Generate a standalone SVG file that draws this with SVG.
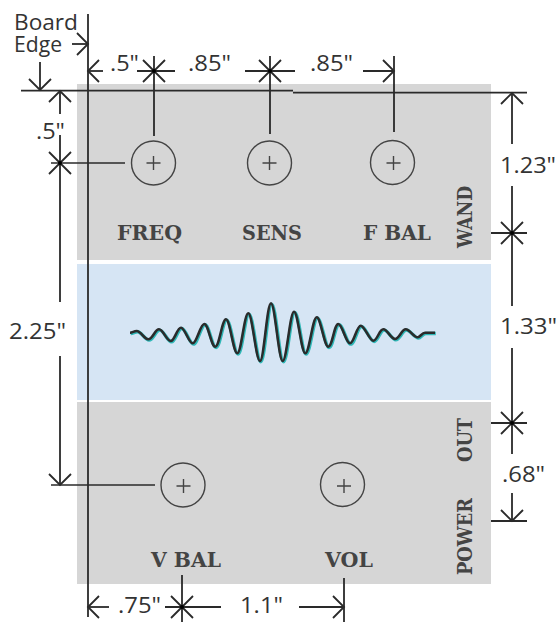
<svg xmlns="http://www.w3.org/2000/svg" width="559" height="622" viewBox="0 0 559 622">
<style>
.ln{stroke:#2a2a2a;stroke-width:1.8;fill:none}
.th{stroke:#2a2a2a;stroke-width:1.5;fill:none}
.hole{stroke:#444;stroke-width:1.4;fill:none}
.dim{font-family:"Open Sans","Liberation Sans",sans-serif;font-size:21px;fill:#333}
.lab{font-family:"DejaVu Serif","Liberation Serif",serif;font-weight:bold;font-size:20px;fill:#444}
</style>
<defs>
<g id="star" class="ln"><path d="M-11,-11L11,11M-11,11L11,-11"/><circle r="2" fill="#000" stroke="none"/></g>
<path id="ah" class="ln" d="M-11,-11L0,0L-11,11"/>
<path id="plus" class="hole" d="M-7,0H7M0,-7V7"/>
<path id="wv" fill="none" stroke-linejoin="round" d="M130,332.7C132.5,332.7 134,331 136.7,331C141,331 144,339.3 148.3,339.3C152.5,339.3 155,329.3 159,329.3C163,329.3 166.7,341 170.7,341C174.7,341 177,327.7 181,327.7C185,327.7 188.7,343.3 192.7,343.3C196.7,343.3 200.3,324 204.3,324C208.3,324 211.3,346.7 215.3,346.7C219.3,346.7 222,319.3 226,319.3C230,319.3 233.3,353.3 237.3,353.3C241.3,353.3 244.3,313.3 248.3,313.3C252.3,313.3 256,361 260,361C264,361 267,303.3 271,303.3C275,303.3 278.7,361 282.7,361C286.7,361 290,311.7 294,311.7C298,311.7 301.3,353.3 305.3,353.3C309.3,353.3 312.7,317.3 316.7,317.3C320.7,317.3 324.3,346.7 328.3,346.7C332.3,346.7 334.3,324 338.3,324C342.3,324 346,343.3 350,343.3C354,343.3 356.7,325.7 360.7,325.7C364.7,325.7 369.3,340.7 373.3,340.7C377.3,340.7 379.3,329.3 383.3,329.3C387.3,329.3 391,339 395,339C399,339 401.7,329.3 405.7,329.3C409.7,329.3 413.7,337.3 417.7,337.3C420,337.3 422,332.7 425,332.7L435,332.7"/>
</defs>
<g id="board">
<rect x="77" y="84" width="414" height="176" fill="#d6d6d6"/>
<rect x="77" y="264" width="414" height="136" fill="#d6e5f4"/>
<rect x="77" y="402" width="414" height="182" fill="#d6d6d6"/>
</g>
<g id="wave">
<use href="#wv" x="0.8" y="0.8" stroke="#2fb8b8" stroke-width="3.4"/>
<use href="#wv" stroke="#2b2b2b" stroke-width="2.6"/>
</g>
<g id="connectors">
<path class="ln" d="M88,14V617"/>
<path class="ln" d="M21,90.700H293M293,92.700H527"/>
<path class="ln" d="M72,44H88"/><use href="#ah" x="88" y="44"/>
<path class="ln" d="M88,71H103"/><use href="#ah" transform="translate(88,71) rotate(180)"/>
<path class="ln" d="M137,71H175M154,56V136"/><use href="#star" x="154" y="71"/>
<path class="ln" d="M245,71H295M270,56V134"/><use href="#star" x="270" y="71"/>
<path class="ln" d="M363,71H394M394,56V132"/><use href="#ah" x="394" y="71"/>
<path class="ln" d="M40,62V90"/><use href="#ah" transform="translate(40,90) rotate(90)"/>
<path class="ln" d="M60,91V114M60,135V302M60,356V485"/><use href="#ah" transform="translate(60,91) rotate(-90)"/>
<path class="th" d="M51,163H125"/><use href="#star" x="60" y="163"/>
<path class="th" d="M51,485H155"/><use href="#ah" transform="translate(60,485) rotate(90)"/>
<path class="ln" d="M512,93V144M512,186V306M512,348V454M512,493V521"/>
<use href="#ah" transform="translate(512,93) rotate(-90)"/>
<path class="ln" d="M491,233H527"/><use href="#star" x="512" y="233"/>
<path class="ln" d="M491,423H527"/><use href="#star" x="512" y="423"/>
<path class="ln" d="M491,521H527"/><use href="#ah" transform="translate(512,521) rotate(90)"/>
<path class="ln" d="M88,607H109"/><use href="#ah" transform="translate(88,607) rotate(180)"/>
<path class="ln" d="M165,607H221M182,575V622"/><use href="#star" x="182" y="607"/>
<path class="ln" d="M299,607H344M344,578V622"/><use href="#ah" x="344" y="607"/>
</g>
<g id="hole-freq"><circle class="hole" cx="153.500" cy="163" r="22"/><use href="#plus" x="153.500" y="163"/><text class="lab" x="117" y="240" textLength="65" lengthAdjust="spacingAndGlyphs">FREQ</text></g>
<g id="hole-sens"><circle class="hole" cx="269.500" cy="163" r="22"/><use href="#plus" x="269.500" y="163"/><text class="lab" x="242" y="240" textLength="60" lengthAdjust="spacingAndGlyphs">SENS</text></g>
<g id="hole-fbal"><circle class="hole" cx="392.500" cy="162.500" r="22"/><use href="#plus" x="393.500" y="163"/><text class="lab" x="363" y="240" textLength="68" lengthAdjust="spacingAndGlyphs">F BAL</text></g>
<g id="hole-vbal"><circle class="hole" cx="183" cy="485" r="22"/><use href="#plus" x="183.500" y="486"/><text class="lab" x="151" y="567" textLength="70" lengthAdjust="spacingAndGlyphs">V BAL</text></g>
<g id="hole-vol"><circle class="hole" cx="342.500" cy="484.500" r="22"/><use href="#plus" x="344" y="486"/><text class="lab" x="325" y="567" textLength="48" lengthAdjust="spacingAndGlyphs">VOL</text></g>
<g id="side-labels">
<text class="lab" transform="translate(472,248) rotate(-90)" textLength="62" lengthAdjust="spacingAndGlyphs">WAND</text>
<text class="lab" transform="translate(472,462) rotate(-90)" textLength="44" lengthAdjust="spacingAndGlyphs">OUT</text>
<text class="lab" transform="translate(472,575) rotate(-90)" textLength="77" lengthAdjust="spacingAndGlyphs">POWER</text>
</g>
<g id="dimensions">
<text class="dim"><tspan x="14" y="30" textLength="64" lengthAdjust="spacingAndGlyphs">Board</tspan><tspan x="14" y="52" textLength="48" lengthAdjust="spacingAndGlyphs">Edge</tspan></text>
<text class="dim" x="110" y="71" textLength="29" lengthAdjust="spacingAndGlyphs">.5"</text>
<text class="dim" x="188" y="71" textLength="43" lengthAdjust="spacingAndGlyphs">.85"</text>
<text class="dim" x="310" y="71" textLength="43" lengthAdjust="spacingAndGlyphs">.85"</text>
<text class="dim" x="36" y="139" textLength="29" lengthAdjust="spacingAndGlyphs">.5"</text>
<text class="dim" x="9" y="339" textLength="57" lengthAdjust="spacingAndGlyphs">2.25"</text>
<text class="dim" x="500" y="173" textLength="56" lengthAdjust="spacingAndGlyphs">1.23"</text>
<text class="dim" x="500" y="334" textLength="57" lengthAdjust="spacingAndGlyphs">1.33"</text>
<text class="dim" x="502" y="482" textLength="43" lengthAdjust="spacingAndGlyphs">.68"</text>
<text class="dim" x="118" y="613" textLength="43" lengthAdjust="spacingAndGlyphs">.75"</text>
<text class="dim" x="240" y="613" textLength="43" lengthAdjust="spacingAndGlyphs">1.1"</text>
</g>
</svg>
